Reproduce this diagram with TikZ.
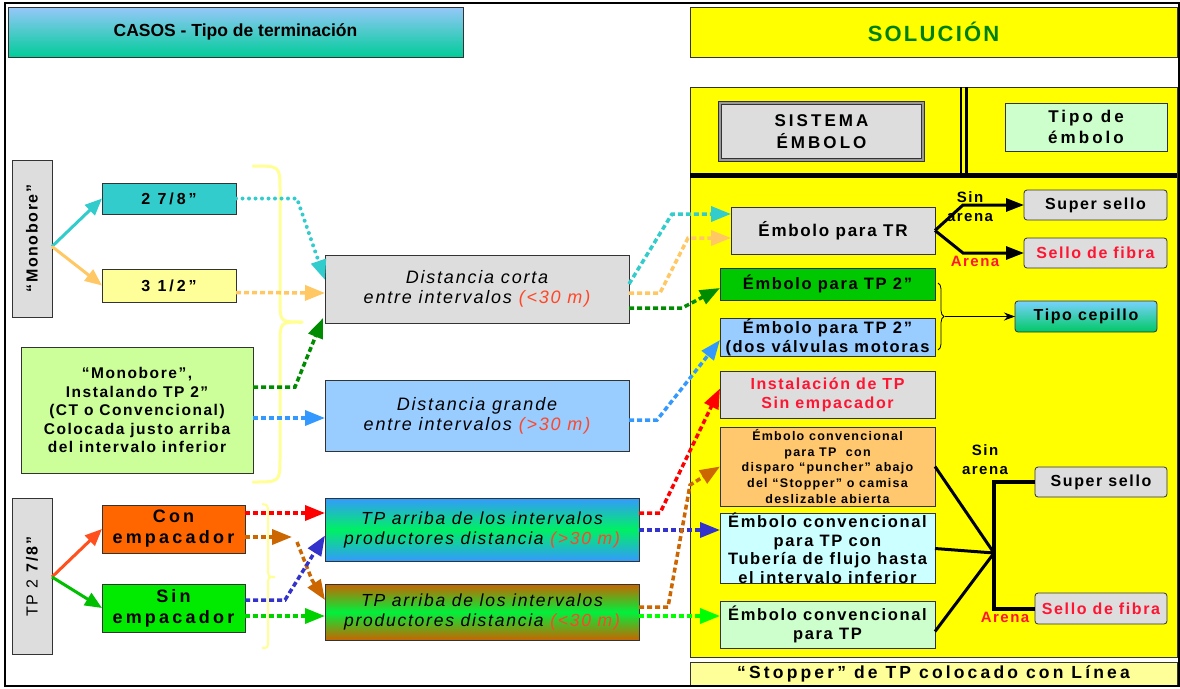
\documentclass[tikz,border=0pt]{standalone}
\usepackage{fontspec}
\usepackage{graphicx}
\setmainfont{Liberation Sans}
\newfontfamily\lsa{Liberation Sans}[LetterSpace=10]
\newfontfamily\lsb{Liberation Sans}[LetterSpace=18]
\usetikzlibrary{arrows.meta,calc,decorations.pathreplacing}
\definecolor{hdrtop}{RGB}{150,200,250}
\definecolor{hdrbot}{RGB}{0,204,153}
\definecolor{ylw}{RGB}{255,255,0}
\definecolor{solgreen}{RGB}{0,128,0}
\definecolor{gry}{RGB}{221,221,221}
\definecolor{tealb}{RGB}{51,204,204}
\definecolor{lyel}{RGB}{255,255,153}
\definecolor{lgreen}{RGB}{204,255,153}
\definecolor{mint}{RGB}{204,255,204}
\definecolor{orng}{RGB}{255,102,0}
\definecolor{bgreen}{RGB}{0,235,0}
\definecolor{lblue}{RGB}{153,204,255}
\definecolor{dgreen}{RGB}{0,200,0}
\definecolor{lorange}{RGB}{255,200,110}
\definecolor{lcyan}{RGB}{204,255,255}
\definecolor{redt}{RGB}{255,20,50}
\definecolor{redm}{RGB}{255,70,40}
\definecolor{cteal}{RGB}{51,204,204}
\definecolor{cor}{RGB}{255,200,100}
\definecolor{cdg}{RGB}{0,140,0}
\definecolor{cblue}{RGB}{51,153,255}
\definecolor{cred}{RGB}{255,0,0}
\definecolor{cbrown}{RGB}{204,102,0}
\definecolor{cnavy}{RGB}{51,51,204}
\definecolor{cgreen}{RGB}{0,210,0}
\definecolor{cbgreen}{RGB}{0,255,0}
\definecolor{cconred}{RGB}{255,80,30}
\definecolor{csingreen}{RGB}{0,190,0}
\definecolor{braceyel}{RGB}{255,255,150}
\definecolor{tpablue}{RGB}{51,153,255}
\definecolor{tpagreen}{RGB}{0,240,100}
\definecolor{tpbbrown}{RGB}{200,100,0}
\definecolor{tpbgreen}{RGB}{0,240,60}
\definecolor{ceptop}{RGB}{120,210,255}
\definecolor{cepbot}{RGB}{0,200,100}
\newcommand\mybox[7]{\node[#6, minimum width={((#4)-(#2))*1pt}, minimum height={((#5)-(#3))*1pt}] (#1) at ({((#2)+(#4))/2},{((#3)+(#5))/2}) {#7};}
\begin{document}
\begin{tikzpicture}[x=1pt,y=-1pt,
  bx/.style={draw=black!80, line width=0.8pt, inner sep=0pt, outer sep=0pt, align=center, text=black},
  arr/.style={line width=3.5pt, dash pattern=on 5pt off 3pt, -{Triangle[length=20pt,width=15pt]}},
  dots/.style={line width=4pt, line cap=round, dash pattern=on 0pt off 6.5pt, -{Triangle[length=20pt,width=15pt]}},
  sol/.style={line width=3pt, -{Triangle[length=17pt,width=14pt]}},
  blk/.style={line width=3pt, -{Triangle[length=18pt,width=13pt]}},
  lbl/.style={inner sep=0pt, align=center, font={\lsa\fontsize{15}{19}\selectfont\bfseries}},
  yb/.style={draw=braceyel, line width=3pt, line cap=round}
]
\useasboundingbox (0,0) rectangle (1180,688);
\fill[white] (0,0) rectangle (1180,688);

% headers
\mybox{casos}{8}{7}{463}{57}{bx, top color=hdrtop, bottom color=hdrbot, font={\fontsize{17.5}{20}\selectfont\bfseries}}{CASOS - Tipo de terminación}
\mybox{sol}{690}{7}{1177}{57}{bx, fill=ylw, text=solgreen, font={\lsa\fontsize{22}{24}\selectfont\bfseries}}{SOLUCIÓN}

% right panel
\draw[draw=black!80, fill=ylw, line width=0.8pt] (690,87) rectangle (1177,657);
\draw[line width=5pt] (690,175.5) -- (1177,175.5);
\draw[line width=2pt] (961,87) -- (961,173);
\draw[line width=3pt] (966.5,87) -- (966.5,173);
\mybox{sist}{720}{103}{923}{160}{bx, fill=gry, draw=black!80, line width=1pt, double=gray!80, double distance=2.5pt, font={\lsb\fontsize{17}{22}\selectfont\bfseries}}{SISTEMA\\ÉMBOLO}
\mybox{tipo}{1005}{103}{1167}{151}{bx, fill=mint, font={\lsb\fontsize{17}{21}\selectfont\bfseries}}{Tipo de\\émbolo}

% left column
\mybox{mono}{12}{160}{52}{317}{bx, fill=gry, font={\lsa\fontsize{16}{18}\selectfont\bfseries}}{\rotatebox{90}{“Monobore”}}
\mybox{n27}{102}{183}{236}{214}{bx, fill=tealb, font={\lsb\fontsize{16}{18}\selectfont\bfseries}}{2 7/8”}
\mybox{n312}{102}{269}{236}{302}{bx, fill=lyel, font={\lsb\fontsize{16}{18}\selectfont\bfseries}}{3 1/2”}
\mybox{mtp}{21}{347}{253}{473}{bx, fill=lgreen, font={\lsa\fontsize{15.5}{18.5}\selectfont\bfseries}}{“Monobore”,\\Instalando TP 2”\\(CT o Convencional)\\Colocada justo arriba\\del intervalo inferior}
\mybox{tp}{12}{498}{52}{654}{bx, fill=gry, font={\lsa\fontsize{16}{18}\selectfont}}{\rotatebox{90}{TP 2 \textbf{7/8”}}}
\mybox{con}{102}{505}{245}{553}{bx, fill=orng, font={\lsb\fontsize{18}{21}\selectfont\bfseries}}{Con\\empacador}
\mybox{sin}{102}{584}{245}{632}{bx, fill=bgreen, font={\lsb\fontsize{18}{21}\selectfont\bfseries}}{Sin\\empacador}

% middle column
\mybox{dc}{325}{255}{629}{323}{bx, fill=gry, font={\lsa\fontsize{18}{20}\selectfont\itshape}}{Distancia corta\\entre intervalos {\color{redm}(<30 m)}}
\mybox{dg}{325}{380}{629}{451}{bx, fill=lblue, font={\lsa\fontsize{18}{20}\selectfont\itshape}}{Distancia grande\\entre intervalos {\color{redm}(>30 m)}}
\mybox{tpa}{325}{498}{639}{561}{bx, top color=tpablue, bottom color=tpablue, middle color=tpagreen, font={\lsa\fontsize{17.5}{20}\selectfont\itshape}}{TP arriba de los intervalos\\productores distancia {\color{redm}(>30 m)}}
\mybox{tpb}{325}{584}{639}{640}{bx, top color=tpbbrown, bottom color=tpbbrown, middle color=tpbgreen, font={\lsa\fontsize{17.5}{20}\selectfont\itshape}}{TP arriba de los intervalos\\productores distancia {\color{redm}(<30 m)}}

% right column
\mybox{tr}{731}{207}{935}{254}{bx, fill=gry, font={\lsa\fontsize{17}{20}\selectfont\bfseries}}{Émbolo para TR}
\mybox{ss1}{1024}{190}{1167}{220}{bx, rounded corners=3pt, fill=gry, font={\lsa\fontsize{16}{18}\selectfont\bfseries}}{Super sello}
\mybox{sf1}{1024}{238}{1167}{268}{bx, rounded corners=3pt, fill=gry, text=redt, font={\lsa\fontsize{16}{18}\selectfont\bfseries}}{Sello de fibra}
\mybox{tp2}{720}{268}{935}{300}{bx, fill=dgreen, font={\lsa\fontsize{16.5}{19}\selectfont\bfseries}}{Émbolo para TP 2”}
\mybox{tpv}{720}{318}{935}{356}{bx, fill=lblue, font={\lsa\fontsize{16.5}{19}\selectfont\bfseries}}{Émbolo para TP 2”\\(dos válvulas motoras}
\mybox{cep}{1015}{301}{1157}{332}{bx, rounded corners=3pt, top color=ceptop, bottom color=cepbot, font={\lsa\fontsize{16}{18}\selectfont\bfseries}}{Tipo cepillo}
\mybox{inst}{720}{371}{935}{418}{bx, fill=gry, text=redt, font={\lsa\fontsize{16}{19}\selectfont\bfseries}}{Instalación de TP\\Sin empacador}
\mybox{pun}{720}{427}{935}{506}{bx, fill=lorange, font={\lsa\fontsize{12.5}{15.8}\selectfont\bfseries}}{Émbolo convencional\\para TP\ \ con\\disparo “puncher” abajo\\del “Stopper” o camisa\\deslizable abierta}
\mybox{tub}{720}{514}{935}{583}{bx, fill=lcyan, font={\lsa\fontsize{16.5}{18.5}\selectfont\bfseries}}{Émbolo convencional\\para TP con\\Tubería de flujo hasta\\el intervalo inferior}
\mybox{conv}{720}{601}{935}{648}{bx, fill=mint, font={\lsa\fontsize{16.5}{18.5}\selectfont\bfseries}}{Émbolo convencional\\para TP}
\mybox{ss2}{1035}{467}{1167}{497}{bx, rounded corners=3pt, fill=gry, font={\lsa\fontsize{16}{18}\selectfont\bfseries}}{Super sello}
\mybox{sf2}{1035}{593}{1167}{624}{bx, rounded corners=3pt, fill=gry, text=redt, font={\lsa\fontsize{16}{18}\selectfont\bfseries}}{Sello de fibra}
\mybox{stop}{690}{662}{1177}{686}{bx, fill=lyel, font={\lsb\fontsize{17.5}{19}\selectfont\bfseries}}{“Stopper” de TP colocado con Línea}

% labels
\node[lbl] (sa1) at (970,207) {Sin\\arena};
\node[lbl, text=redt] (ar1) at (975,261) {Arena};
\node[lbl] (sa2) at (985,460) {Sin\\arena};
\node[lbl, text=redt] (ar2) at (1005,617) {Arena};

% yellow braces
\draw[yb] (253,166) .. controls (280,166) .. (280,190) -- (280,300) .. controls (280,322) .. (302,322);
\draw[yb] (302,322) .. controls (280,322) .. (280,345) -- (280,458) .. controls (280,482) .. (253,482);
\draw[draw=braceyel, line width=2pt] (262,504) .. controls (268,505) .. (268,514) -- (268,568) .. controls (268,577) .. (275,577) .. controls (268,577) .. (268,586) -- (268,640) .. controls (268,648) .. (262,648);

% left solid arrows
\draw[sol, color=cteal] ($(mono.east)+(0,8)$) -- (n27.west);
\draw[sol, color=cor] ($(mono.east)+(0,8)$) -- (n312.west);
\draw[sol, color=cconred] ($(tp.east)+(0,1)$) -- (con.west);
\draw[sol, color=csingreen] ($(tp.east)+(0,1)$) -- (sin.west);

% dashed arrows left to middle
\draw[dots, color=cteal] (n27.east) -- (297,198.5) -- ($(dc.north west)+(0,25)$);
\draw[arr, color=cor] ($(n312.east)+(0,7)$) -- ($(dc.west)+(0,4)$);
\draw[arr, color=cdg] ($(mtp.east)+(0,-23)$) -- (295,387) -- ($(dc.south west)+(-2,-5)$);
\draw[arr, color=cblue] ($(mtp.east)+(0,8)$) -- ($(dg.west)+(0,2.5)$);
\draw[arr, color=cred] ($(con.east)+(0,-16)$) -- ($(tpa.west)+(0,-16.5)$);
\coordinate (bmid) at (292,537);
\coordinate (bmid2) at (297,542);
\draw[arr, color=cbrown] ($(con.east)+(0,8)$) -- (bmid);
\draw[arr, color=cbrown] (bmid2) -- (312,580) -- ($(tpb.north west)+(0,16)$);
\draw[arr, color=cnavy] ($(sin.east)+(0,-8)$) -- (285,600) -- ($(tpa.west)+(0,6)$);
\draw[arr, color=cgreen] ($(sin.east)+(0,8)$) -- ($(tpb.west)+(0,4)$);

% dashed arrows middle to right
\draw[arr, color=cteal] ($(dc.east)+(0,-5)$) -- (672,214) -- ($(tr.west)+(0,-16.5)$);
\draw[arr, color=cor] ($(dc.east)+(0,4)$) -- (660,293) -- (688,238) -- ($(tr.west)+(0,7.5)$);
\draw[arr, color=cdg] ($(dc.east)+(0,19)$) -- (682,308) -- ($(tp2.west)+(0,4)$);
\draw[arr, color=cblue] ($(dg.east)+(0,4.5)$) -- (657,420) -- ($(tpv.west)+(0,3)$);
\draw[arr, color=cred] ($(tpa.east)+(0,-16.5)$) -- (660,513) -- ($(inst.west)+(0,-6)$);
\draw[arr, color=cnavy] ($(tpa.east)+(0,0.5)$) -- ($(tub.west)+(0,-18.5)$);
\draw[arr, color=cbrown] ($(tpb.east)+(0,-5)$) -- (668,607) -- (690,485) -- (pun.west);
\draw[arr, color=cbgreen] ($(tpb.east)+(0,4)$) -- ($(conv.west)+(0,-8.5)$);

% black connectors
\draw[blk] (tr.east) -- (963,205) -- (ss1.west);
\draw[blk] (tr.east) -- (963,253) -- (sf1.west);
\draw[decorate, decoration={brace, amplitude=6pt}, line width=0.8pt] (938,283) -- (938,350);
\coordinate (btip) at (945,316.5);
\draw[line width=0.9pt, -{Stealth[length=11pt,width=8pt]}] (btip) -- (cep.west);
\coordinate (J) at (994,553);
\draw[line width=3pt] (pun.east) -- (J);
\draw[line width=3pt] (tub.east) -- (J);
\draw[line width=3pt] ($(conv.east)+(0,7)$) -- (J);
\draw[line width=4pt] (ss2.west) -- ++(-41,0) |- (sf2.west);

% outer frame
\draw[line width=1.6pt] (5,3) rectangle (1179,686);
\end{tikzpicture}
\end{document}
